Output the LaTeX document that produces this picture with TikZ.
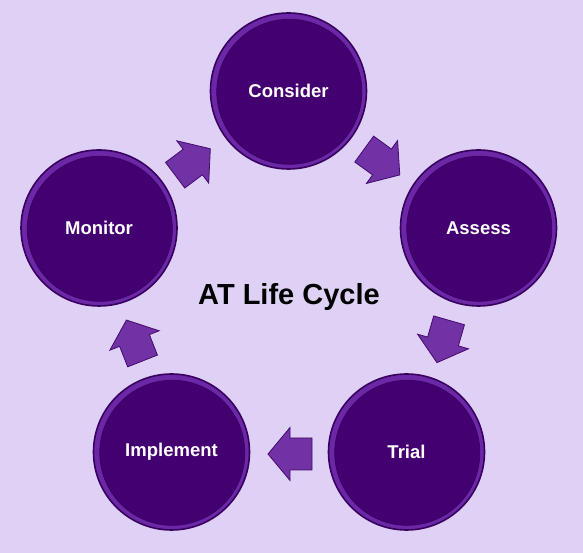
\documentclass[tikz,border=0pt]{standalone}
\usepackage{fontspec}
\setmainfont{Liberation Sans}
\definecolor{bgc}{RGB}{223,209,245}
\definecolor{discfill}{RGB}{66,0,112}
\definecolor{discrim}{RGB}{106,40,166}
\definecolor{discedge}{RGB}{58,0,96}
\definecolor{arrowfill}{RGB}{112,50,164}
\definecolor{arrowedge}{RGB}{70,10,110}
\tikzset{
  stage/.style={circle, minimum size=156pt, inner sep=0pt, fill=discrim, draw=discedge, line width=1.6pt},
  inner disc/.style={circle, minimum size=145pt, inner sep=0pt, fill=discfill, draw=discedge!70!discfill, line width=0.8pt},
  label/.style={text=white, font=\bfseries\fontsize{18.5}{21}\selectfont},
  arrowshape/.style={fill=arrowfill, draw=arrowedge, line width=0.8pt, line join=miter},
  blockarrow/.pic={\draw[arrowshape] (-22,-16) -- (0,-16) -- (0,-26.5) -- (22,0) -- (0,26.5) -- (0,16) -- (-22,16) -- cycle;},
  title/.style={font=\bfseries\fontsize{29}{33}\selectfont, text=black}
}
\begin{document}
\begin{tikzpicture}[x=1pt,y=1pt]
\fill[bgc] (0,0) rectangle (583,553);
\useasboundingbox (0,0) rectangle (583,553);
% discs
\foreach \nm/\px/\py in {consider/288.5/462, assess/478.5/325, monitor/99/325, implement/171.5/101, trial/406.5/101}{
  \node[stage] (\nm) at (\px,\py) {};
  \node[inner disc, xshift=0.8pt, yshift=-0.8pt] (\nm-in) at (\px,\py) {};
}
\node[label] (t-consider) at (consider) {Consider};
\node[label] (t-assess) at (assess) {Assess};
\node[label] (t-monitor) at (monitor) {Monitor};
\node[label] (t-implement) at (implement) {Implement};
\node[label] (t-trial) at (trial) {Trial};
\node[title] (cycle) at (289,256) {AT Life Cycle};
% arrows
\pic[rotate=37] (a1) at (192.75,391) {blockarrow};
\pic[rotate=-36] (a2) at (382,391) {blockarrow};
\pic[rotate=-106] (a3) at (443,211.5) {blockarrow};
\pic[rotate=180] (a4) at (290,99) {blockarrow};
\pic[rotate=111.5] (a5) at (134.5,212.5) {blockarrow};
\end{tikzpicture}
\end{document}
